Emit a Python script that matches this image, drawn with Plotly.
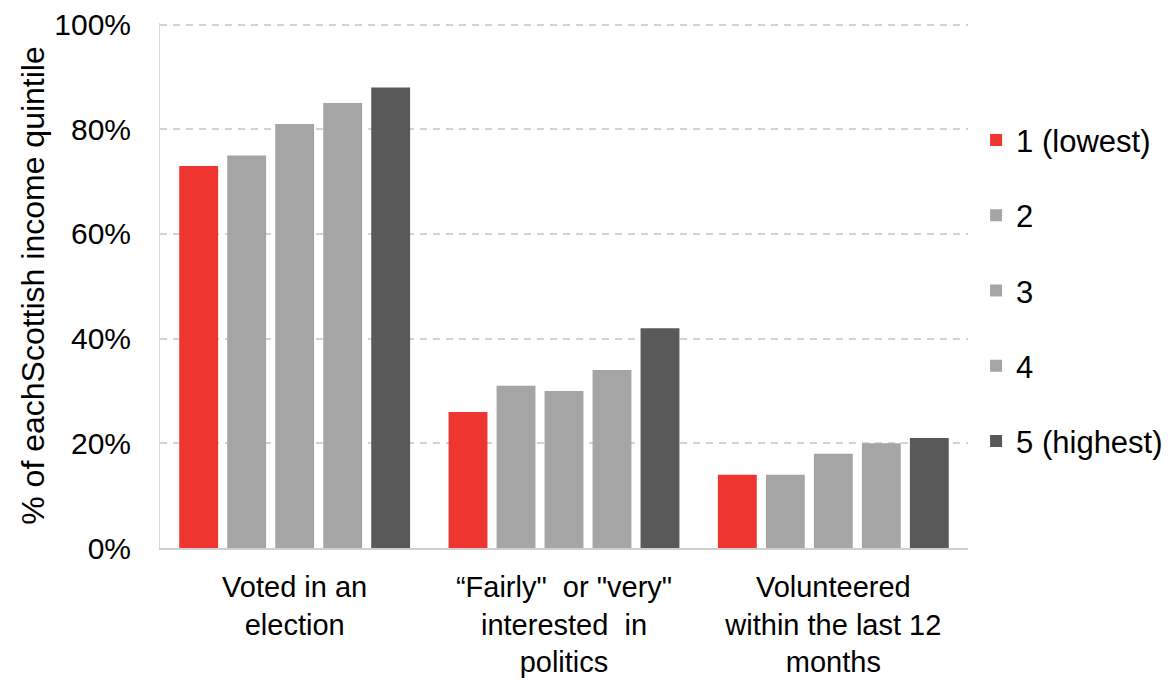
import plotly.graph_objects as go

categories = ["Voted in an<br>election", "“Fairly\"  or \"very\"<br>interested  in<br>politics", "Volunteered<br>within the last 12<br>months"]
series_names = ["1 (lowest)", "2", "3", "4", "5 (highest)"]
values = {
    "1 (lowest)": [73, 26, 14],
    "2": [75, 31, 14],
    "3": [81, 30, 18],
    "4": [85, 34, 20],
    "5 (highest)": [88, 42, 21],
}
colors = ["#EF3530", "#A5A5A5", "#A5A5A5", "#A5A5A5", "#595959"]
y_ticks = [0, 20, 40, 60, 80, 100]
y_labels = ["0%", "20%", "40%", "60%", "80%", "100%"]

fig = go.Figure()
for name, col in zip(series_names, colors):
    fig.add_trace(go.Bar(x=categories, y=values[name], name=name,
                         marker=dict(color=col, line=dict(width=0)),
                         legendgroup=name))

fig.update_layout(
    width=1172, height=680,
    margin=dict(l=152, r=209, t=15, b=140),
    paper_bgcolor="white", plot_bgcolor="white",
    font=dict(family="Liberation Sans, Arial", size=30, color="#000000"),
    barmode="group", bargap=0.109, bargroupgap=0.19,
    showlegend=True,
    legend=dict(x=1.01, y=0.49, xanchor="left", yanchor="middle",
                font=dict(size=31), tracegroupgap=32, itemwidth=30),
    xaxis=dict(showline=True, linecolor="#D0D0D0", linewidth=2,
               ticks="", tickfont=dict(size=29), automargin=False,
               ticklabelstandoff=12),
    yaxis=dict(range=[0, 100.3], tickvals=y_ticks, ticktext=y_labels,
               showgrid=True, gridcolor="#D3D3D3", griddash="7px,6px", gridwidth=1.5,
               showline=True, linecolor="#DADADA", linewidth=1,
               zeroline=False, ticks="", tickfont=dict(size=30),
               ticklabelstandoff=22, ticklabeloverflow="allow", automargin=False,
               title=dict(text="% of eachScottish income quintile", font=dict(size=32), standoff=0)),
)

fig.write_html("out.html")
